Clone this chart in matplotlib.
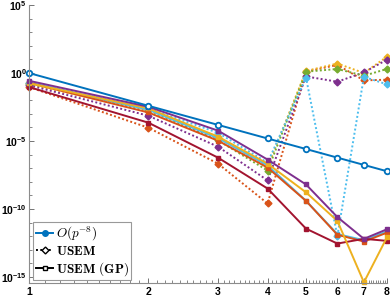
import numpy as np
import matplotlib
matplotlib.use("Agg")
import matplotlib.pyplot as plt
from matplotlib.ticker import FixedLocator, FuncFormatter, NullFormatter

plt.rcParams["mathtext.fontset"] = "custom"
plt.rcParams["mathtext.rm"] = "Liberation Sans"
plt.rcParams["mathtext.bf"] = "Liberation Sans:bold"
plt.rcParams["mathtext.it"] = "Liberation Sans:italic"

# polynomial degree p
p = np.array([1, 2, 3, 4, 5, 6, 7, 8])

# log10 of errors
usem = {  # dotted, diamonds
    "orange": [-1.03, -4.02, -6.67, -9.6, 0.1, 0.6, -0.54, -0.49],
    "yellow": [-0.8, -2.8, -4.7, -6.9, 0.15, 0.7, 0.0, 1.2],
    "purple": [-0.9, -3.14, -5.42, -7.9, -0.25, -0.64, 0.05, 0.98],
    "green": [-0.75, -2.7, -4.95, -7.18, 0.1, 0.3, -0.2, 0.3],
    "lightblue": [-0.7, -2.6, -4.4, -6.6, -0.33, -12.0, -0.28, -0.83],
}
usem_gp = {  # solid, squares
    "lightblue": [-0.7, -2.7, -4.8, -6.8, -9.4, -11.85, -12.3, -11.65],
    "orange": [-0.72, -2.9, -4.98, -6.96, -9.41, -11.9, -12.4, -11.75],
    "dark red": [-1.03, -3.65, -6.23, -8.5, -11.45, -12.55, -12.2, -12.35],
    "yellow": [-0.75, -2.6, -4.68, -6.67, -8.78, -10.88, -15.4, -12.1],
    "purple": [-0.57, -2.48, -4.24, -6.37, -8.2, -10.6, -12.2, -11.5],
}
colors = {"blue": "#0072BD", "orange": "#D95319", "yellow": "#EDB120",
          "purple": "#7E2F8E", "green": "#77AC30", "lightblue": "#4DBEEE",
          "dark red": "#A2142F"}

fig = plt.figure(figsize=(3.9, 3.0), dpi=100)
ax = fig.add_axes([0.0744, 0.0567, 0.9176, 0.9263])

dot = (0, (1, 1.2))
for k, v in usem.items():
    ax.plot(p, 10.0 ** np.array(v), linestyle=dot, color=colors[k], lw=1.4,
            marker="D", ms=3.5, mfc=colors[k], mec=colors[k], clip_on=False)
for k, v in usem_gp.items():
    ax.plot(p, 10.0 ** np.array(v), "-", color=colors[k], lw=1.4,
            marker="s", ms=3.5, mfc=colors[k], mec=colors[k], clip_on=False)

ax.plot(p, p ** -8.0, "-", color=colors["blue"], lw=1.4, marker="o", ms=4,
        mfc="white", mec=colors["blue"], mew=1.3, clip_on=False)

ax.set_xscale("log")
ax.set_yscale("log")
ax.set_xlim(1, 8)
ax.set_ylim(10 ** -15.45, 1e5)

ax.xaxis.set_major_locator(FixedLocator(p))
ax.xaxis.set_major_formatter(FuncFormatter(lambda x, pos: "%d" % round(x)))
minor_x = [i / 10 for i in range(11, 80) if i % 10 != 0]
ax.xaxis.set_minor_locator(FixedLocator(minor_x))
ax.xaxis.set_minor_formatter(NullFormatter())

ax.yaxis.set_major_locator(FixedLocator([1e-15, 1e-10, 1e-5, 1e0, 1e5]))
ax.yaxis.set_major_formatter(FuncFormatter(
    lambda y, pos: r"$\mathbf{10^{%d}}$" % round(np.log10(y))))
ax.yaxis.set_minor_locator(FixedLocator([10.0 ** e for e in range(-15, 6)]))
ax.yaxis.set_minor_formatter(NullFormatter())

for lab in ax.get_xticklabels():
    lab.set_fontweight("bold")
    lab.set_fontsize(7.5)
    lab.set_fontfamily("Liberation Sans")
for lab in ax.get_yticklabels():
    lab.set_fontsize(7.5)

ax.tick_params(which="both", direction="in", colors="0.45", labelcolor="black")
ax.tick_params(which="major", length=3.5, width=0.7)
ax.tick_params(axis="y", which="major", pad=1.5)
ax.tick_params(axis="x", which="major", pad=3)
ax.tick_params(which="minor", length=2, width=0.6)
for s in ["top", "right"]:
    ax.spines[s].set_visible(False)
for s in ["left", "bottom"]:
    ax.spines[s].set_color("0.55")
    ax.spines[s].set_linewidth(0.8)

# legend proxies
h1, = ax.plot([], [], "-", color=colors["blue"], lw=1.4, marker="o", ms=4,
              mfc=colors["blue"], mec=colors["blue"])
h2, = ax.plot([], [], linestyle=dot, color="black", lw=1.4, marker="D",
              ms=3.5, mfc="white", mec="black")
h3, = ax.plot([], [], "-", color="black", lw=1.4, marker="s", ms=3.5,
              mfc="white", mec="black")
leg = ax.legend([h1, h2, h3],
                [r"$O(p^{-8})$", r"$\mathbf{USEM}$", r"$\mathbf{USEM\ (GP)}$"],
                loc="lower left", bbox_to_anchor=(0.005, 0.0),
                fontsize=9.5, handlelength=1.3, handletextpad=0.2,
                borderpad=0.2, labelspacing=0.15, borderaxespad=0.2,
                fancybox=False, framealpha=1)
leg.get_frame().set_edgecolor("0.6")
leg.get_frame().set_linewidth(0.8)
for t in leg.get_texts():
    t.set_math_fontfamily("cm")

fig.savefig("out.png", dpi=100)
